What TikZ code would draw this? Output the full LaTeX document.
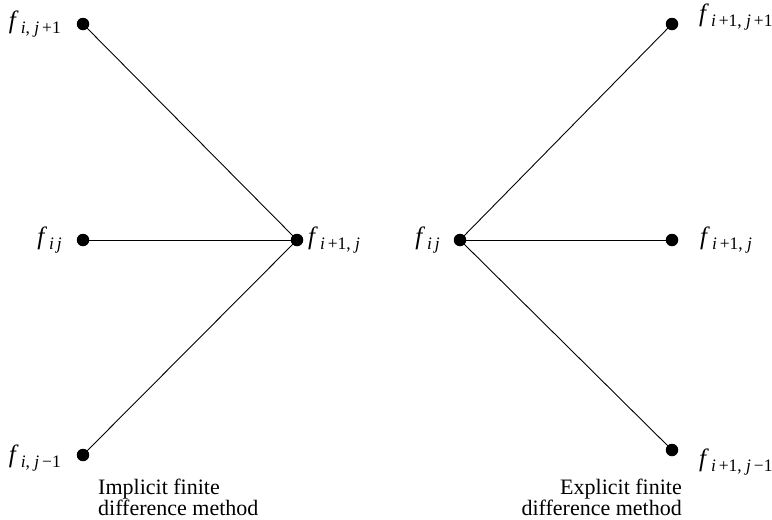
\documentclass[tikz,border=0pt]{standalone}
\usepackage{fontspec}
\setmainfont{Liberation Serif}
\newcommand\flab[1]{\textit{f}\kern2pt\raisebox{-0.5ex}{\fontsize{17.5}{19}\selectfont #1}}
\begin{document}
\begin{tikzpicture}[x=1pt,y=-1pt,
  dot/.style={circle,fill=black,inner sep=0pt,minimum size=12.5pt},
  lab/.style={font=\fontsize{25}{27}\selectfont,inner sep=0pt},
  captxt/.style={font=\fontsize{22}{20}\selectfont,inner sep=0pt,align=left},
  edge/.style={line width=0.9pt}]
\useasboundingbox (0,0) rectangle (772,520);
% left (implicit)
\node[dot] (a1) at (83,24) {};
\node[dot] (a2) at (83,240) {};
\node[dot] (a3) at (83,455) {};
\node[dot] (a4) at (297,240) {};
\draw[edge] (a1.center) -- (a4.center);
\draw[edge] (a2.center) -- (a4.center);
\draw[edge] (a3.center) -- (a4.center);
\node[lab,anchor=east] (la1) at (61,24) {\flab{\textit{i}, \textit{j}\,+1}};
\node[lab,anchor=east] (la2) at (62,240) {\flab{\textit{i\,j}}};
\node[lab,anchor=east] (la3) at (61,458) {\flab{\textit{i}, \textit{j}\,−1}};
\node[lab,anchor=west] (la4) at (308,240) {\flab{\textit{i}\,+1, \textit{j}}};
\node[captxt,anchor=north west] (ca) at (98,479) {Implicit finite\\difference method};
% right (explicit)
\node[dot] (b1) at (460,240) {};
\node[dot] (b2) at (672,24) {};
\node[dot] (b3) at (672,240) {};
\node[dot] (b4) at (672,450) {};
\draw[edge] (b1.center) -- (b2.center);
\draw[edge] (b1.center) -- (b3.center);
\draw[edge] (b1.center) -- (b4.center);
\node[lab,anchor=east] (lb1) at (440,240) {\flab{\textit{i\,j}}};
\node[lab,anchor=west] (lb2) at (699,17) {\flab{\textit{i}\,+1, \textit{j}\,+1}};
\node[lab,anchor=west] (lb3) at (700,240) {\flab{\textit{i}\,+1, \textit{j}}};
\node[lab,anchor=west] (lb4) at (699,462) {\flab{\textit{i}\,+1, \textit{j}\,−1}};
\node[captxt,anchor=north east,align=right] (cb) at (682,479) {Explicit finite\\difference method};
\end{tikzpicture}
\end{document}
